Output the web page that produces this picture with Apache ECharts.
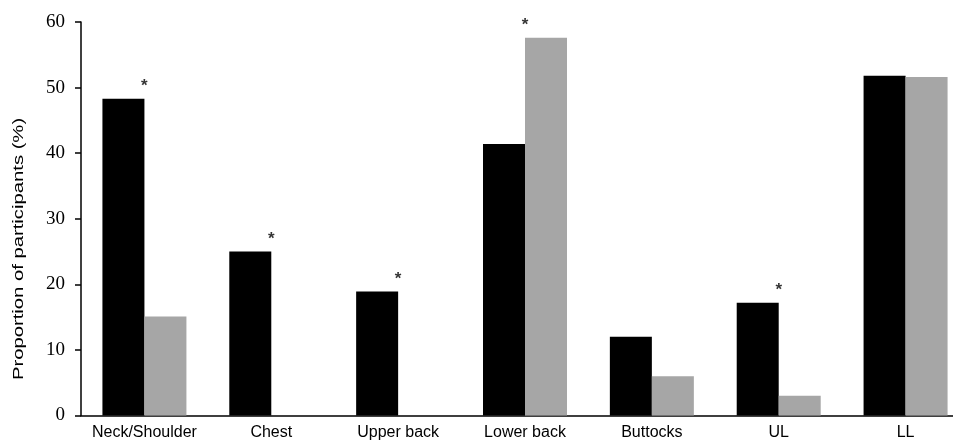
<!DOCTYPE html>
<html>
<head>
<meta charset="utf-8">
<script src="https://cdn.jsdelivr.net/npm/echarts@6/dist/echarts.min.js"></script>
<style>
  html, body { margin: 0; padding: 0; background: #fff; }
  #chart { width: 953px; height: 441px; }
</style>
</head>
<body>
<div id="chart"></div>
<script>
// data
const categories = ['Neck/Shoulder', 'Chest', 'Upper back', 'Lower back', 'Buttocks', 'UL', 'LL'];
const blackValues = [48.3, 25.0, 18.9, 41.4, 12.0, 17.2, 51.8];
const greyValues = [15.1, 0, 0, 57.6, 6.0, 3.0, 51.6];
const significant = [1, 1, 1, 1, 0, 1, 0];
const yTicks = [0, 10, 20, 30, 40, 50, 60];

const chart = echarts.init(document.getElementById('chart'));

// star sits over the taller bar of each pair
const starData = categories.map((c, i) =>
    significant[i] ? Math.max(blackValues[i], greyValues[i]) : '-');

const option = {
    animation: false,
    backgroundColor: '#fff',
    // plot runs past the right edge of the picture (cropped original)
    grid: { left: 81, width: 888, top: 22, bottom: 25.5, outerBoundsMode: 'none' },
    xAxis: {
        type: 'category',
        data: categories,
        axisTick: { show: false },
        axisLine: { lineStyle: { color: '#000', width: 1.5 } },
        axisLabel: {
            interval: 0,
            color: '#000',
            fontFamily: 'Liberation Sans',
            fontSize: 16,
            margin: 9,
        },
    },
    yAxis: {
        type: 'value',
        min: yTicks[0],
        max: yTicks[yTicks.length - 1],
        interval: 10,
        splitLine: { show: false },
        axisLine: { show: true, lineStyle: { color: '#000', width: 1.5 } },
        axisTick: { show: true, length: 6, lineStyle: { color: '#000', width: 1.5 } },
        axisLabel: {
            color: '#000',
            fontFamily: 'Liberation Serif',
            fontSize: 19,
            margin: 16,
        },
    },
    graphic: [{
        type: 'text',
        x: 19,
        y: 249,
        rotation: Math.PI / 2,
        scaleX: 1.35,
        style: {
            text: 'Proportion of participants (%)',
            fontFamily: 'Liberation Sans',
            fontSize: 15,
            fill: '#000',
            align: 'center',
            verticalAlign: 'middle',
        },
    }],
    series: [
        {
            name: 'black',
            type: 'bar',
            barWidth: 42,
            barGap: '0%',
            data: blackValues,
            itemStyle: { color: '#000' },
        },
        {
            name: 'grey',
            type: 'bar',
            barWidth: 42,
            barGap: '0%',
            data: greyValues,
            itemStyle: { color: '#a6a6a6' },
        },
        {
            name: 'sig',
            type: 'scatter',
            symbolSize: 0,
            data: starData,
            label: {
                show: true,
                position: 'top',
                distance: 4,
                formatter: '*',
                color: '#000',
                fontFamily: 'Liberation Sans',
                fontWeight: 'bold',
                fontSize: 17,
            },
            z: 5,
        },
    ],
};
chart.setOption(option);
</script>
</body>
</html>
